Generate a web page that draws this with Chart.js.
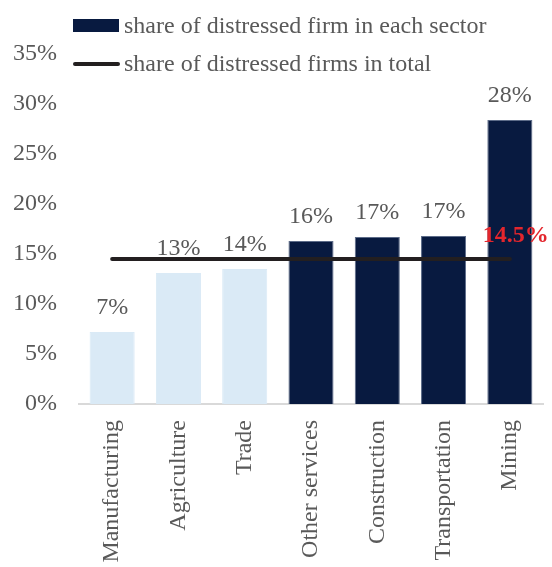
<!DOCTYPE html>
<html>
<head>
<meta charset="utf-8">
<script src="https://cdn.jsdelivr.net/npm/chart.js@4/dist/chart.umd.min.js"></script>
<style>
    html, body { margin: 0; padding: 0; background: #fff; }
    #wrap { position: relative; width: 552px; height: 567px; }
    #legend { position: absolute; left: 73px; top: 8px; font-family: "Liberation Serif", "Times New Roman", serif; font-size: 24px; color: #595959; }
    .legend-item { position: relative; height: 38px; padding-left: 51px; line-height: 34px; white-space: nowrap; }
    .legend-item .swatch { position: absolute; left: 0; }
</style>
</head>
<body>
<div id="wrap">
    <canvas id="chart" width="552" height="567"></canvas>
    <div id="legend"></div>
</div>
<script>
const sectors = ['Manufacturing', 'Agriculture', 'Trade', 'Other services', 'Construction', 'Transportation', 'Mining'];
const sectorShares = [7.2, 13.1, 13.5, 16.3, 16.7, 16.8, 28.4];
const totalShare = [14.5, 14.5, 14.5, 14.5, 14.5, 14.5, 14.5];
const yTicks = [0, 5, 10, 15, 20, 25, 30, 35];

const lightBlue = '#daeaf6';
const navy = '#081a40';
const textGray = '#595959';
const serif = '"Liberation Serif", "Times New Roman", serif';

// first three sectors are below the total share, drawn in light blue
const barColors = sectorShares.map(v => v < totalShare[0] ? lightBlue : navy);
const barBorders = sectorShares.map(v => v < totalShare[0] ? lightBlue : '#5c6b88');

const valueLabels = {
    id: 'valueLabels',
    afterDatasetsDraw(chart) {
        const ctx = chart.ctx;
        ctx.save();
        ctx.textAlign = 'center';
        ctx.textBaseline = 'middle';

        const barMeta = chart.getDatasetMeta(1);
        ctx.font = '24px ' + serif;
        ctx.fillStyle = textGray;
        barMeta.data.forEach((bar, i) => {
            ctx.fillText(Math.round(sectorShares[i]) + '%', bar.x, bar.y - 24);
        });

        const lineMeta = chart.getDatasetMeta(0);
        const last = lineMeta.data[lineMeta.data.length - 1];
        ctx.font = 'bold 24px ' + serif;
        ctx.fillStyle = '#e3262d';
        ctx.fillText(totalShare[totalShare.length - 1].toFixed(1) + '%', last.x + 6, last.y - 23);
        ctx.restore();
    }
};

const chart = new Chart(document.getElementById('chart').getContext('2d'), {
    data: {
        labels: sectors,
        datasets: [{
            type: 'line',
            label: 'share of distressed firms in total',
            data: totalShare,
            borderColor: '#231f20',
            backgroundColor: '#231f20',
            borderWidth: 4,
            borderCapStyle: 'round',
            pointRadius: 0,
            order: 0
        }, {
            type: 'bar',
            label: 'share of distressed firm in each sector',
            data: sectorShares,
            backgroundColor: barColors,
            borderColor: barBorders,
            borderWidth: 1,
            barPercentage: 0.68,
            categoryPercentage: 1,
            order: 1
        }]
    },
    options: {
        responsive: false,
        animation: false,
        layout: {
            padding: { top: 54, left: 13, right: 9, bottom: 0 }
        },
        plugins: {
            legend: { display: false },
            tooltip: { enabled: false }
        },
        scales: {
            x: {
                grid: { display: false },
                border: { color: '#d9d9d9', width: 2 },
                afterFit: axis => { axis.height = 163; },
                ticks: {
                    autoSkip: false,
                    maxRotation: 90,
                    minRotation: 90,
                    padding: 8,
                    color: textGray,
                    font: { family: serif, size: 24 }
                }
            },
            y: {
                min: yTicks[0],
                max: yTicks[yTicks.length - 1],
                grid: { display: false },
                border: { display: false },
                afterBuildTicks: axis => { axis.ticks = yTicks.map(v => ({ value: v })); },
                afterFit: axis => { axis.width = 66; },
                ticks: {
                    padding: 14,
                    color: textGray,
                    font: { family: serif, size: 24 },
                    callback: v => v + '%'
                }
            }
        }
    },
    plugins: [valueLabels]
});

// legend: bar first, then line, as in the original
const legend = document.getElementById('legend');
[chart.data.datasets[1], chart.data.datasets[0]].forEach(ds => {
    const item = document.createElement('div');
    item.className = 'legend-item';
    const swatch = document.createElement('span');
    swatch.className = 'swatch';
    if (ds.type === 'bar') {
        swatch.style.cssText = 'top:11px;width:46px;height:13px;background:' + navy + ';';
    } else {
        swatch.style.cssText = 'top:16px;width:47px;height:4px;border-radius:2px;background:' + ds.borderColor + ';';
    }
    item.appendChild(swatch);
    item.appendChild(document.createTextNode(ds.label));
    legend.appendChild(item);
});
</script>
</body>
</html>
